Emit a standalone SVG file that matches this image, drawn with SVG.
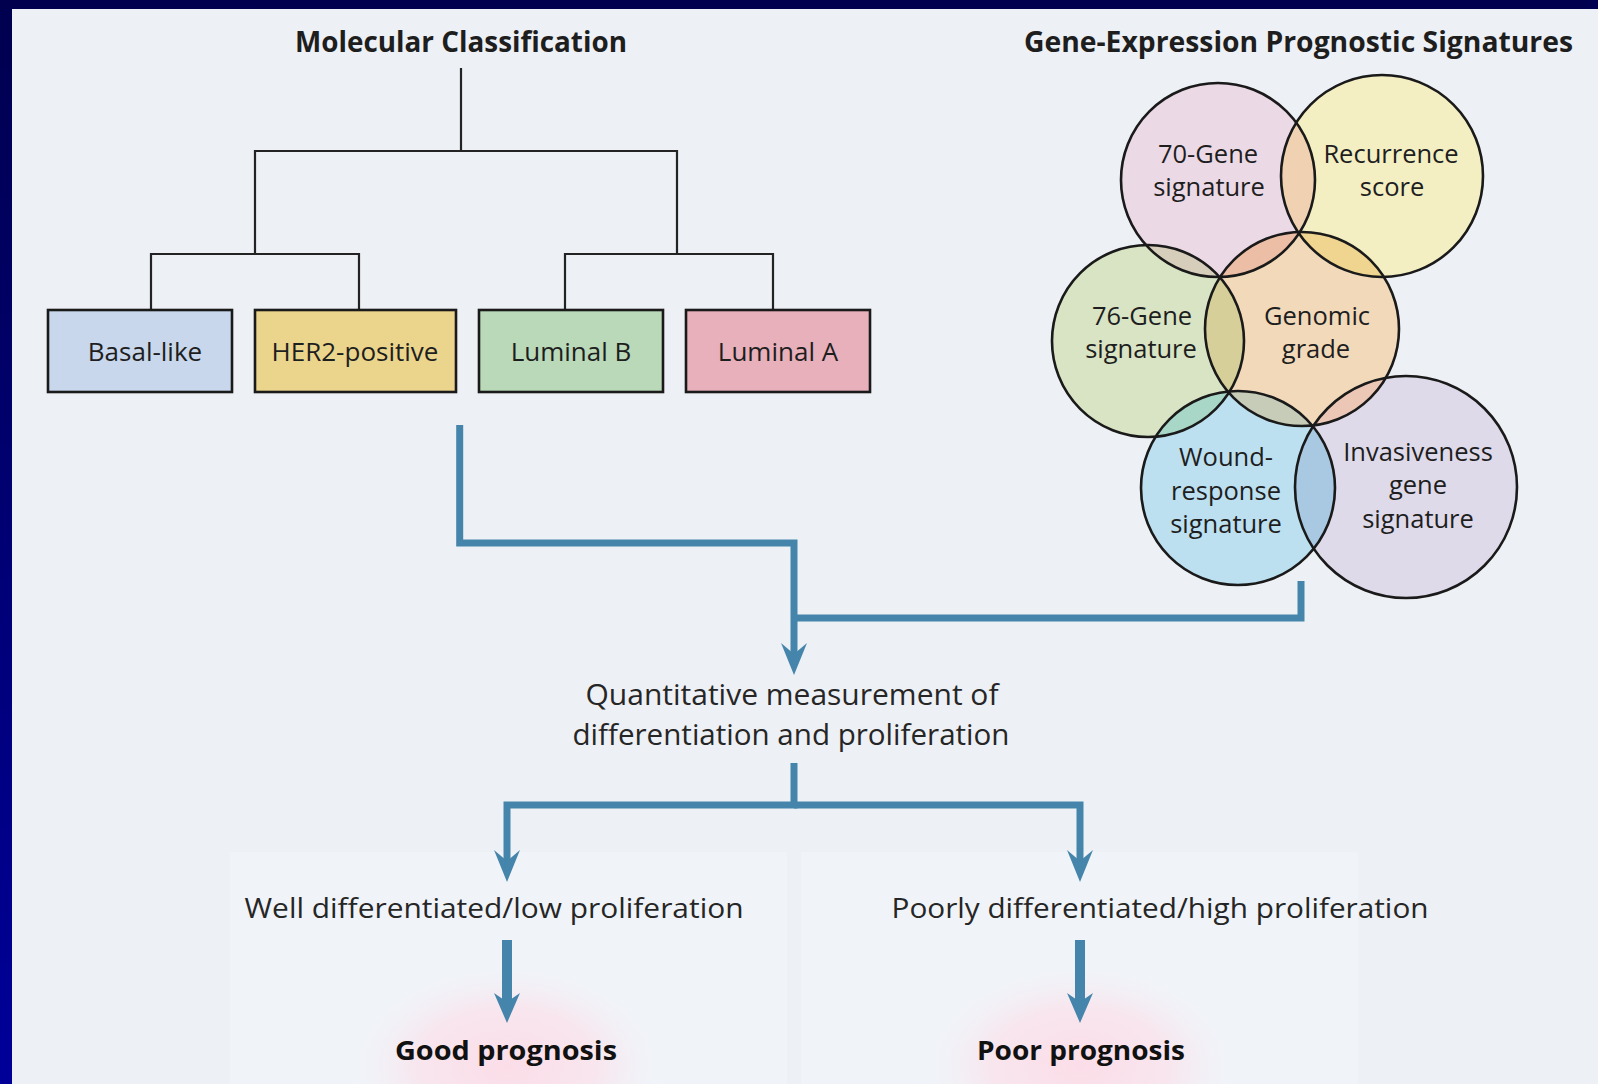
<svg xmlns="http://www.w3.org/2000/svg" width="1598" height="1084" viewBox="0 0 1598 1084">
<style>
.t{font-family:"Open Sans","Liberation Sans",sans-serif;fill:#1e1e1e}
.title{font-size:29px;font-weight:bold}
.box{stroke:#1a1a1a;stroke-width:2.6}
.lbl{font-size:26px;text-anchor:middle}
.cl{font-size:25.5px;text-anchor:middle}
.mid{font-size:30px;text-anchor:middle;fill:#262626}
.out{font-size:28px;text-anchor:middle;fill:#262626}
.prog{font-size:27.5px;font-weight:bold;text-anchor:middle;fill:#111}
.tree{fill:none;stroke:#232323;stroke-width:2.2}
.flow{fill:none;stroke:#4585ab;stroke-width:7;stroke-linejoin:miter}
.thick{fill:none;stroke:#4585ab;stroke-width:10}
.ring{fill:none;stroke:#1a1a1a;stroke-width:2.6}
</style>
<defs>
<linearGradient id="frame" x1="0" y1="0" x2="0" y2="1">
<stop offset="0" stop-color="#00004f"/>
<stop offset="1" stop-color="#000099"/>
</linearGradient>
<radialGradient id="glow" cx="0.5" cy="0.5" r="0.5">
<stop offset="0" stop-color="#fbdde8"/>
<stop offset="0.55" stop-color="#f8e6ee"/>
<stop offset="1" stop-color="#f0f4f9" stop-opacity="0"/>
</radialGradient>
<marker id="ah" markerUnits="userSpaceOnUse" markerWidth="32" markerHeight="26" viewBox="0 -13 32 26" refX="11" refY="0" orient="auto">
<path d="M0,-13 L11,0 L0,13 L32,0 Z" fill="#4585ab"/>
</marker>
<marker id="ahb" markerUnits="userSpaceOnUse" markerWidth="30" markerHeight="26" viewBox="0 -13 30 26" refX="9" refY="0" orient="auto">
<path d="M0,-13 L9,0 L0,13 L30,0 Z" fill="#4585ab"/>
</marker>
<clipPath id="k70"><circle cx="1218" cy="180" r="97"/></clipPath>
<clipPath id="kRec"><circle cx="1382" cy="176" r="101"/></clipPath>
<clipPath id="k76"><circle cx="1148" cy="341" r="96"/></clipPath>
<clipPath id="kGen"><circle cx="1302" cy="329" r="97"/></clipPath>
<clipPath id="kWnd"><circle cx="1238" cy="488" r="97"/></clipPath>
<clipPath id="kInv"><circle cx="1406" cy="487" r="111"/></clipPath>
</defs>

<rect x="0" y="0" width="1598" height="1084" fill="url(#frame)"/>
<rect x="12" y="9" width="1586" height="1075" fill="#edf0f5"/>
<rect x="230" y="852" width="557" height="232" fill="#f0f4f9"/>
<rect x="801" y="852" width="557" height="232" fill="#f0f4f9"/>
<ellipse cx="507" cy="1066" rx="165" ry="108" fill="url(#glow)"/>
<ellipse cx="1080" cy="1066" rx="165" ry="108" fill="url(#glow)"/>

<text class="t title" x="295" y="52" textLength="332" lengthAdjust="spacingAndGlyphs">Molecular Classification</text>
<text class="t title" x="1024" y="52" textLength="549" lengthAdjust="spacingAndGlyphs">Gene-Expression Prognostic Signatures</text>

<g id="connectors">
<path class="tree" d="M461,68 V151 M255,254 V151 H677 V254 M151,310 V254 H359 V310 M565,310 V254 H773 V310"/>
<path class="flow" d="M459.7,425 V543 H794 V654" marker-end="url(#ah)"/>
<path class="flow" d="M1301,581 V618 H794"/>
<path class="flow" d="M794,763 V805 H507 V861" marker-end="url(#ah)"/>
<path class="flow" d="M794,805 H1080 V861" marker-end="url(#ah)"/>
<path class="thick" d="M507,940 V1002" marker-end="url(#ahb)"/>
<path class="thick" d="M1080,940 V1002" marker-end="url(#ahb)"/>
</g>

<g id="basal-like">
<rect class="box" x="48" y="310" width="184" height="82" fill="#c8d7eb"/>
<text class="t lbl" x="145" y="361">Basal-like</text>
</g>
<g id="her2-positive">
<rect class="box" x="255" y="310" width="201" height="82" fill="#ebd58c"/>
<text class="t lbl" x="355" y="361">HER2-positive</text>
</g>
<g id="luminal-b">
<rect class="box" x="479" y="310" width="184" height="82" fill="#b9d9b8"/>
<text class="t lbl" x="571" y="361">Luminal B</text>
</g>
<g id="luminal-a">
<rect class="box" x="686" y="310" width="184" height="82" fill="#e8b0bb"/>
<text class="t lbl" x="778" y="361">Luminal A</text>
</g>

<g id="venn-fills">
<circle cx="1218" cy="180" r="97" fill="#ecd9e6"/>
<circle cx="1382" cy="176" r="101" fill="#f3efc3"/>
<circle cx="1148" cy="341" r="96" fill="#d9e4c4"/>
<circle cx="1302" cy="329" r="97" fill="#f1d9ba"/>
<circle cx="1238" cy="488" r="97" fill="#bde0f1"/>
<circle cx="1406" cy="487" r="111" fill="#dfdaea"/>
<circle cx="1218" cy="180" r="97" fill="#f0d2b2" clip-path="url(#kRec)"/>
<circle cx="1218" cy="180" r="97" fill="#edbea6" clip-path="url(#kGen)"/>
<circle cx="1382" cy="176" r="101" fill="#f0d591" clip-path="url(#kGen)"/>
<circle cx="1218" cy="180" r="97" fill="#d6cebb" clip-path="url(#k76)"/>
<circle cx="1148" cy="341" r="96" fill="#d6cf99" clip-path="url(#kGen)"/>
<circle cx="1148" cy="341" r="96" fill="#a8d7c7" clip-path="url(#kWnd)"/>
<circle cx="1302" cy="329" r="97" fill="#c7ccb8" clip-path="url(#kWnd)"/>
<circle cx="1302" cy="329" r="97" fill="#ecc7b6" clip-path="url(#kInv)"/>
<circle cx="1238" cy="488" r="97" fill="#a9c8e2" clip-path="url(#kInv)"/>
</g>

<g id="sig-70-gene">
<circle class="ring" cx="1218" cy="180" r="97"/>
<text class="t cl" x="1208" y="163">70-Gene</text>
<text class="t cl" x="1209" y="196">signature</text>
</g>
<g id="sig-recurrence">
<circle class="ring" cx="1382" cy="176" r="101"/>
<text class="t cl" x="1391" y="163">Recurrence</text>
<text class="t cl" x="1392" y="196">score</text>
</g>
<g id="sig-76-gene">
<circle class="ring" cx="1148" cy="341" r="96"/>
<text class="t cl" x="1142" y="325">76-Gene</text>
<text class="t cl" x="1141" y="358">signature</text>
</g>
<g id="sig-genomic-grade">
<circle class="ring" cx="1302" cy="329" r="97"/>
<text class="t cl" x="1317" y="325">Genomic</text>
<text class="t cl" x="1316" y="358">grade</text>
</g>
<g id="sig-wound-response">
<circle class="ring" cx="1238" cy="488" r="97"/>
<text class="t cl" x="1226" y="466">Wound-</text>
<text class="t cl" x="1226" y="500">response</text>
<text class="t cl" x="1226" y="533">signature</text>
</g>
<g id="sig-invasiveness">
<circle class="ring" cx="1406" cy="487" r="111"/>
<text class="t cl" x="1418" y="461">Invasiveness</text>
<text class="t cl" x="1418" y="494">gene</text>
<text class="t cl" x="1418" y="528">signature</text>
</g>

<g id="quantitative">
<text class="t mid" x="792" y="705" textLength="413" lengthAdjust="spacingAndGlyphs">Quantitative measurement of</text>
<text class="t mid" x="791" y="745" textLength="437" lengthAdjust="spacingAndGlyphs">differentiation and proliferation</text>
</g>
<g id="well-differentiated">
<text class="t out" x="494" y="918" textLength="499" lengthAdjust="spacingAndGlyphs">Well differentiated/low proliferation</text>
</g>
<g id="poorly-differentiated">
<text class="t out" x="1160" y="918" textLength="537" lengthAdjust="spacingAndGlyphs">Poorly differentiated/high proliferation</text>
</g>
<g id="good-prognosis">
<text class="t prog" x="506" y="1060" textLength="222" lengthAdjust="spacingAndGlyphs">Good prognosis</text>
</g>
<g id="poor-prognosis">
<text class="t prog" x="1081" y="1060" textLength="208" lengthAdjust="spacingAndGlyphs">Poor prognosis</text>
</g>
</svg>
